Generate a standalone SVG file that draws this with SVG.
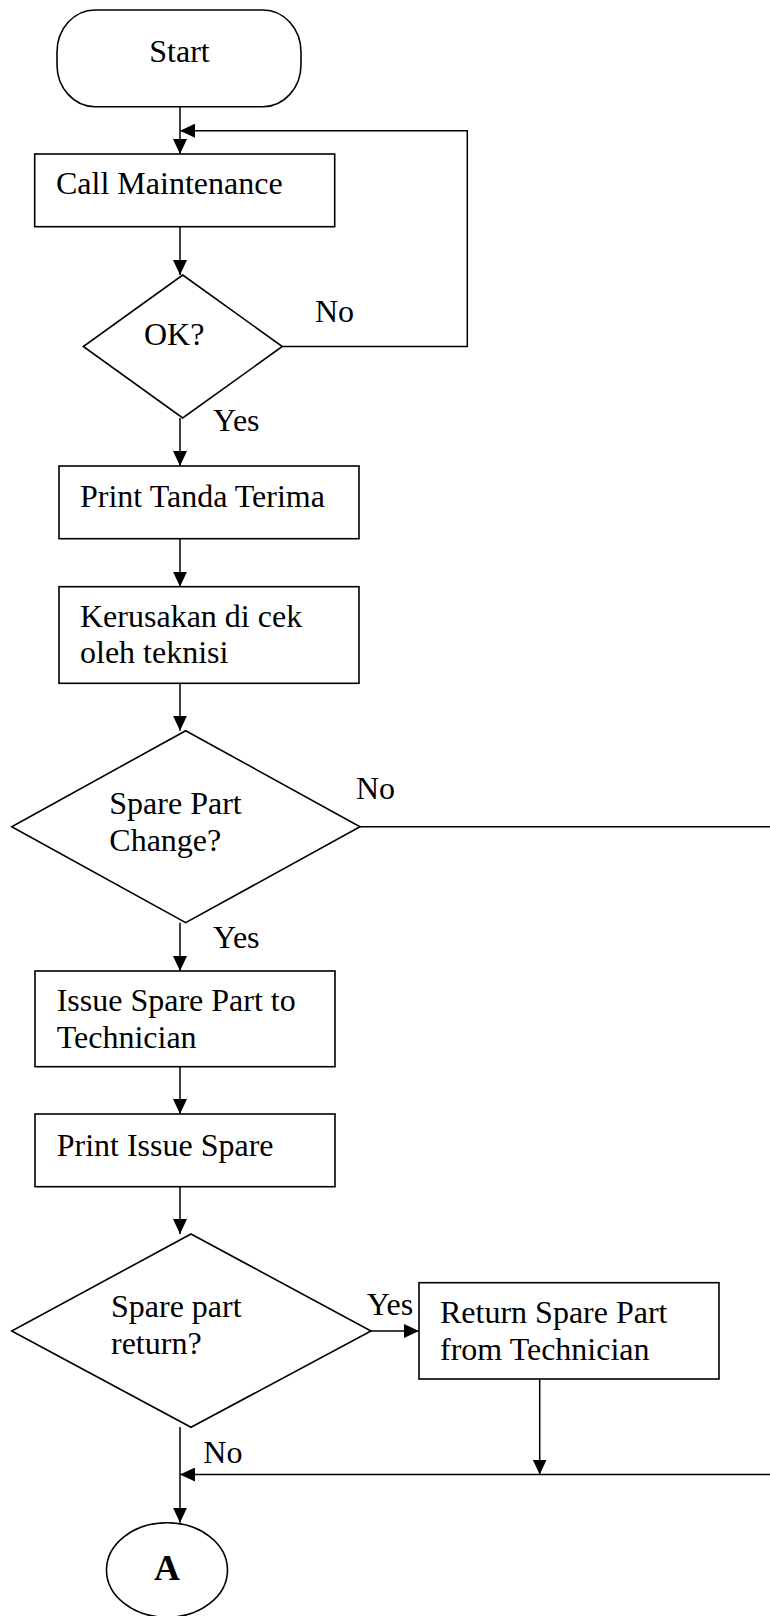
<svg xmlns="http://www.w3.org/2000/svg" width="770" height="1616" viewBox="0 0 770 1616">
  <style>
    .shape { fill: #ffffff; stroke: #000000; stroke-width: 1.6; }
    .conn { fill: none; stroke: #000000; stroke-width: 1.5; }
    .txt { font-family: "Liberation Serif", "Times New Roman", serif; font-size: 32px; fill: #000000; }
    .bold { font-weight: bold; font-size: 36px; }
  </style>
  <defs>
    <marker id="arrow" viewBox="0 0 15 14" refX="15" refY="7" markerWidth="15" markerHeight="14" markerUnits="userSpaceOnUse" orient="auto">
      <path d="M0,0 L15,7 L0,14 z" fill="#000000"/>
    </marker>
  </defs>
  <rect x="0" y="0" width="770" height="1616" fill="#ffffff"/>

  <!-- connectors -->
  <g id="connectors">
    <path class="conn" d="M180,106.7 L180,154" marker-end="url(#arrow)"/>
    <path class="conn" d="M282.3,346.5 L467.3,346.5 L467.3,130.7 L180,130.7" marker-end="url(#arrow)"/>
    <path class="conn" d="M180,226.7 L180,275" marker-end="url(#arrow)"/>
    <path class="conn" d="M180,418 L180,466" marker-end="url(#arrow)"/>
    <path class="conn" d="M180,538.7 L180,586.7" marker-end="url(#arrow)"/>
    <path class="conn" d="M180,683.3 L180,730.7" marker-end="url(#arrow)"/>
    <path class="conn" d="M347.7,826.7 L770,826.7"/>
    <path class="conn" d="M180,922.7 L180,971" marker-end="url(#arrow)"/>
    <path class="conn" d="M180,1066.7 L180,1114" marker-end="url(#arrow)"/>
    <path class="conn" d="M180,1186.7 L180,1234" marker-end="url(#arrow)"/>
    <path class="conn" d="M371,1331 L419,1331" marker-end="url(#arrow)"/>
    <path class="conn" d="M180,1427 L180,1522.7" marker-end="url(#arrow)"/>
    <path class="conn" d="M539.7,1379 L539.7,1474.5" marker-end="url(#arrow)"/>
    <path class="conn" d="M770,1474.5 L180,1474.5" marker-end="url(#arrow)"/>

    <text class="txt" x="315" y="321.7">No</text>
    <text class="txt" x="213" y="430.7">Yes</text>
    <text class="txt" x="356" y="799">No</text>
    <text class="txt" x="213" y="947.7">Yes</text>
    <text class="txt" x="366.7" y="1315">Yes</text>
    <text class="txt" x="203.3" y="1462.7">No</text>
  </g>

  <!-- nodes -->
  <g id="start">
    <rect class="shape" x="57" y="10" width="244" height="96.7" rx="38" ry="42"/>
    <text class="txt" x="179.5" y="62" text-anchor="middle">Start</text>
  </g>
  <g id="call-maintenance">
    <rect class="shape" x="34.7" y="154" width="300" height="72.7"/>
    <text class="txt" x="56" y="194">Call Maintenance</text>
  </g>
  <g id="ok">
    <polygon class="shape" points="182.7,275 282.3,346.5 182.7,418 83.3,346.5"/>
    <text class="txt" x="144" y="345">OK?</text>
  </g>
  <g id="print-tanda-terima">
    <rect class="shape" x="59" y="466" width="300" height="72.7"/>
    <text class="txt" x="80" y="507.3">Print Tanda Terima</text>
  </g>
  <g id="kerusakan">
    <rect class="shape" x="59" y="586.7" width="300" height="96.6"/>
    <text class="txt" x="80" y="626.7">Kerusakan di cek</text>
    <text class="txt" x="80" y="663.3">oleh teknisi</text>
  </g>
  <g id="spare-part-change">
    <polygon class="shape" points="185.7,730.7 360,826.7 185.7,922.7 11.7,826.7"/>
    <text class="txt" x="109.3" y="814">Spare Part</text>
    <text class="txt" x="109.3" y="850.7">Change?</text>
  </g>
  <g id="issue-spare-part">
    <rect class="shape" x="35" y="971" width="300" height="95.7"/>
    <text class="txt" x="56.7" y="1011">Issue Spare Part to</text>
    <text class="txt" x="56.7" y="1048.3">Technician</text>
  </g>
  <g id="print-issue-spare">
    <rect class="shape" x="35" y="1114" width="300" height="72.7"/>
    <text class="txt" x="56.7" y="1156">Print Issue Spare</text>
  </g>
  <g id="spare-part-return">
    <polygon class="shape" points="191,1234 371,1331 191,1427.3 11.7,1331"/>
    <text class="txt" x="111" y="1317.3">Spare part</text>
    <text class="txt" x="111" y="1354">return?</text>
  </g>
  <g id="return-spare-part">
    <rect class="shape" x="419" y="1282.7" width="300" height="96.3"/>
    <text class="txt" x="440" y="1323.3">Return Spare Part</text>
    <text class="txt" x="440" y="1360">from Technician</text>
  </g>
  <g id="connector-a">
    <ellipse class="shape" cx="167" cy="1570" rx="60.5" ry="47.3"/>
    <text class="txt bold" x="167" y="1580" text-anchor="middle">A</text>
  </g>
</svg>
